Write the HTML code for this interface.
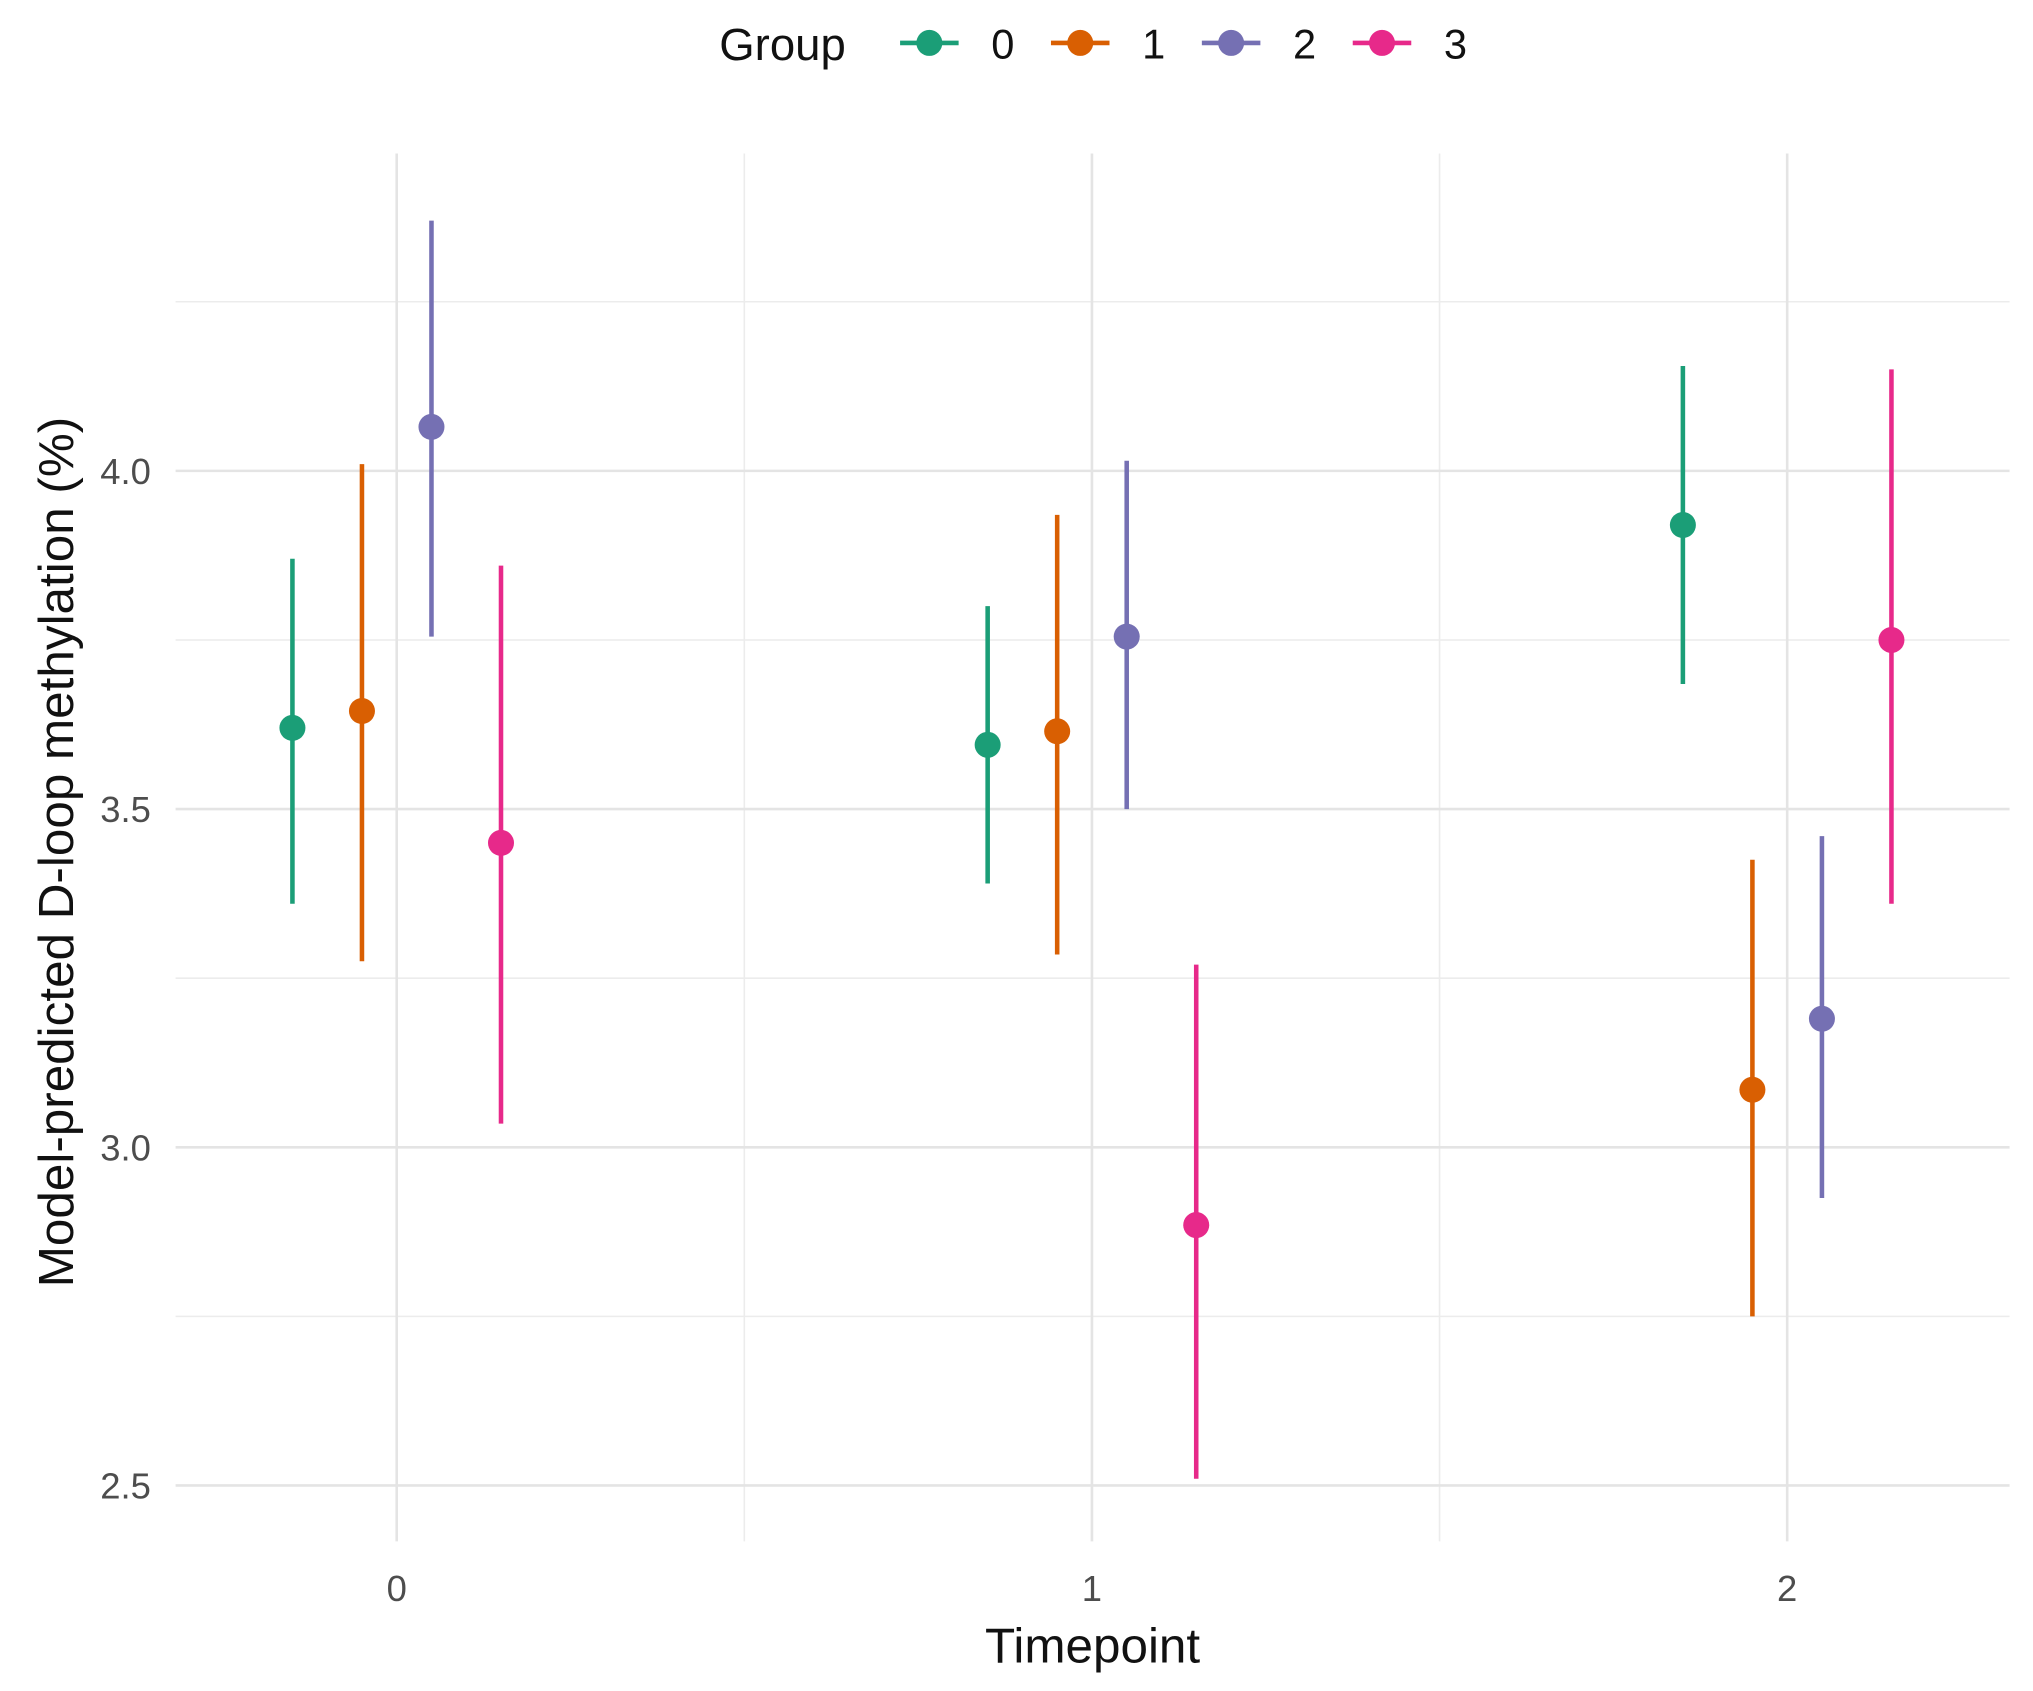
<!DOCTYPE html>
<html><head><meta charset="utf-8"><style>
html,body{margin:0;padding:0;background:#fff;}
svg{display:block;font-family:"Liberation Sans",sans-serif;}
</style></head><body>
<svg id="chart" width="2033" height="1691" viewBox="0 0 1563 1300" preserveAspectRatio="none" xmlns="http://www.w3.org/2000/svg">
<g id="grid"></g>
<g id="marks"></g>
<g id="axes"></g>
<text x="840" y="1278" font-size="38" text-anchor="middle" fill="#111">Timepoint</text>
<text transform="translate(56,655) rotate(-90)" font-size="38" text-anchor="middle" fill="#111">Model-predicted D-loop methylation (%)</text>
<g id="legend"></g>
</svg>
<script>
const timepoints = [0, 1, 2];
const groups = ["0", "1", "2", "3"];
const colors = ["#1B9E77", "#D95F02", "#7570B3", "#E7298A"];
const est = [[3.62, 3.645, 4.065, 3.45],[3.595, 3.615, 3.755, 2.885],[3.92, 3.085, 3.19, 3.75]];
const lower = [[3.36, 3.275, 3.755, 3.035],[3.39, 3.285, 3.50, 2.51],[3.685, 2.75, 2.925, 3.36]];
const upper = [[3.87, 4.01, 4.37, 3.86],[3.80, 3.935, 4.015, 3.27],[4.155, 3.425, 3.46, 4.15]];
const yTicks = [2.5, 3.0, 3.5, 4.0];
const yTickLabels = ["2.5", "3.0", "3.5", "4.0"];
const yMinor = [2.75, 3.25, 3.75, 4.25];
const xTickLabels = ["0", "1", "2"];
const dodge = [-0.15, -0.05, 0.05, 0.15];

const NS = "http://www.w3.org/2000/svg";
const PL = 135, PR = 1545, PT = 118, PB = 1185;
const xS = v => 305 + v * 534.5;
const yS = v => 362 - (v - 4.0) * 520;
function mk(tag, attrs, parent) { const e = document.createElementNS(NS, tag); for (const k in attrs) e.setAttribute(k, attrs[k]); parent.appendChild(e); return e; }
const grid = document.getElementById("grid"), marks = document.getElementById("marks"), axes = document.getElementById("axes"), legend = document.getElementById("legend");

yMinor.forEach(v => { const l = mk("line", {x1: PL, x2: PR, y1: yS(v), y2: yS(v), stroke: "#ececec", "stroke-width": 1.2}, grid);
    });
[0.5, 1.5].forEach(v => { const l = mk("line", {x1: xS(v), x2: xS(v), y1: PT, y2: PB, stroke: "#ececec", "stroke-width": 1.2}, grid);
    });
yTicks.forEach((v, i) => {
  const l = mk("line", {x1: PL, x2: PR, y1: yS(v), y2: yS(v), stroke: "#e4e4e4", "stroke-width": 2}, grid);
   
  const t = mk("text", {x: 116, y: yS(v) + 10, "font-size": 28, "text-anchor": "end", fill: "#4d4d4d"}, axes);
  t.textContent = yTickLabels[i];
   
});
timepoints.forEach((v, i) => {
  const l = mk("line", {x1: xS(v), x2: xS(v), y1: PT, y2: PB, stroke: "#e4e4e4", "stroke-width": 2}, grid);
   
  const t = mk("text", {x: xS(v), y: 1231, "font-size": 28, "text-anchor": "middle", fill: "#4d4d4d"}, axes);
  t.textContent = xTickLabels[i];
   
});
timepoints.forEach((tp, i) => groups.forEach((g, j) => {
  const x = xS(tp + dodge[j]);
  const l = mk("line", {x1: x, x2: x, y1: yS(upper[i][j]), y2: yS(lower[i][j]), stroke: colors[j], "stroke-width": 3.5}, marks);
   
  const c = mk("circle", {cx: x, cy: yS(est[i][j]), r: 10, fill: colors[j]}, marks);
   
}));
const lt = mk("text", {x: 553, y: 46, "font-size": 35, fill: "#111"}, legend);
lt.textContent = "Group";
 
groups.forEach((g, j) => {
  const x0 = 692 + j * 116;
  const gg = mk("g", {}, legend);
   
  mk("line", {x1: x0, x2: x0 + 45, y1: 33, y2: 33, stroke: colors[j], "stroke-width": 3.5}, gg);
  mk("circle", {cx: x0 + 22.5, cy: 33, r: 10, fill: colors[j]}, gg);
  const t = mk("text", {x: x0 + 79, y: 45, "font-size": 32, "text-anchor": "middle", fill: "#111"}, gg);
  t.textContent = g;
});
</script>
</body></html>
